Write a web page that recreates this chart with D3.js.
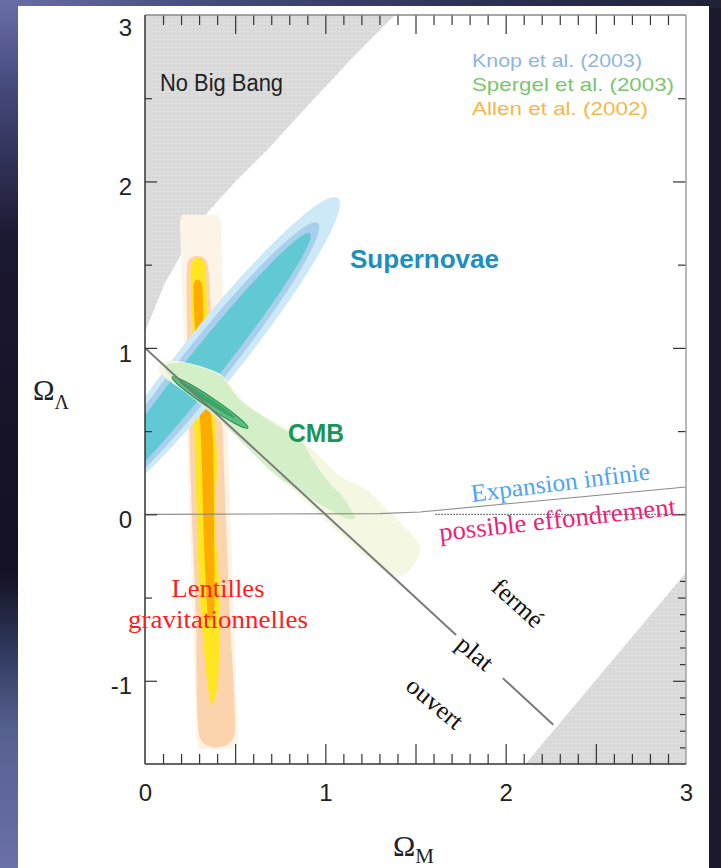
<!DOCTYPE html>
<html><head><meta charset="utf-8">
<script src="https://cdn.jsdelivr.net/npm/d3@7"></script>
<style>html,body{margin:0;padding:0;background:#1c1c30;} svg{display:block}</style>
</head><body>
<svg id="c" width="721" height="868"></svg>
<script>
// ---------- data ----------
const xTickLabels = [0, 1, 2, 3];
const yTickLabels = [-1, 0, 1, 2, 3];
const xDomain = [0, 3];
const yDomain = [-1.5, 3];

// "No Big Bang" region boundary (ΩM, ΩΛ)
const noBigBang = [[0,3],[0,1.097],[0.111,1.391],[0.222,1.601],[0.344,1.811],[0.499,1.997],
  [0.677,2.189],[0.932,2.489],[1.165,2.760],[1.386,3]];
// excluded region bottom-right
const lowerExcluded = [[2.11,-1.5],[3,-0.35],[3,-1.5]];
// flat universe line ΩM+ΩΛ=1 (broken for the "plat" label)
const flatSegments = [[[0,1],[1.725,-0.725]], [[1.984,-0.984],[2.264,-1.264]]];
// expansion / recollapse boundary
const expansionLine = [[0,0],[1.3,0.004],[1.525,0.014],[3,0.164]];
const dottedZero = [[1.61,0],[3,0]];

// Allen et al. (2002) gravitational lensing band, nested levels
const lensPale = [[0.205,1.800],[0.405,1.800],[0.420,1.760],[0.516,-1.370],[0.500,-1.410],[0.300,-1.410],[0.288,-1.370],[0.194,1.760]];
const lensPeach = [[0.238,1.516],[0.344,1.516],[0.372,1.108],[0.427,0.567],[0.449,-0.034],[0.471,-0.635],
  [0.494,-1.332],[0.305,-1.344],[0.283,-0.635],[0.261,-0.034],[0.244,0.567],[0.233,1.108]];
const lensYellow = [[0.255,1.500],[0.333,1.500],[0.349,1.047],[0.399,0.368],[0.388,-0.034],[0.416,-0.515],
  [0.405,-0.996],[0.372,-1.146],[0.344,-0.996],[0.305,-0.515],[0.288,-0.034],[0.277,0.368],[0.266,1.047]];
const lensCore = [[0.270,1.380],[0.316,1.380],[0.330,1.047],[0.377,0.446],[0.383,-0.155],[0.385,-0.575],
  [0.350,-0.620],[0.327,-0.155],[0.311,0.446],[0.280,1.047]];

// Knop et al. (2003) supernova contours: ends of major axis + width ratio
const snTipsA = [[1.070,1.901],[0.959,1.751],[0.915,1.689]];
const snTipsB = [[-0.322,0.010],[-0.294,0.044],[-0.277,0.068]];
const snRatio = [0.144, 0.127, 0.099];

// Spergel et al. (2003) CMB contours
const cmbPale = [[0.072,0.867],[0.100,0.915],[0.183,0.921],[0.305,0.891],[0.416,0.843],[0.505,0.735],
  [0.582,0.639],[0.804,0.507],[0.932,0.387],[1.081,0.231],[1.231,0.147],[1.359,0.014],[1.508,-0.155],
  [1.525,-0.215],[1.503,-0.287],[1.425,-0.371],[1.348,-0.359],[1.248,-0.275],[1.109,-0.143],[0.970,-0.004],
  [0.832,0.134],[0.693,0.290],[0.527,0.447],[0.360,0.615],[0.222,0.735],[0.128,0.807]];
const cmbGreen = [[0.128,0.903],[0.222,0.909],[0.333,0.873],[0.427,0.825],[0.527,0.687],[0.710,0.549],
  [0.860,0.447],[0.932,0.326],[1.009,0.206],[1.098,0.104],[1.154,0.008],[1.165,-0.022],[1.109,-0.022],
  [0.932,0.086],[0.710,0.248],[0.433,0.549],[0.250,0.717],[0.155,0.819],[0.111,0.867]];
const cmbInnerA = [[0.150,0.825],[0.194,0.796]];
const cmbInnerB = [[0.571,0.519],[0.499,0.579]];
const cmbInnerRatio = [0.11, 0.08];

const legendTexts = ["Knop et al. (2003)", "Spergel et al.  (2003)", "Allen et al.  (2002)"];

// ---------- drawing ----------
const svg = d3.select("#c");
const W = 721, H = 868;
const x = d3.scaleLinear().domain(xDomain).range([145, 686]);
const y = d3.scaleLinear().domain(yDomain).range([764, 15]);
const defs = svg.append("defs");

// background
const lg = defs.append("linearGradient").attr("id","leftGrad").attr("x1",0).attr("y1",0).attr("x2",0).attr("y2",1);
[[0,"#6a6ea8"],[0.1,"#454a7c"],[0.28,"#1a1730"],[0.66,"#141124"],[0.74,"#2c3558"],[0.84,"#56608f"],[1,"#6a70a8"]]
  .forEach(s=>lg.append("stop").attr("offset",s[0]).attr("stop-color",s[1]));
const tg = defs.append("linearGradient").attr("id","topGrad");
[[0,"#6a6ea8"],[0.3,"#444a7a"],[0.7,"#2a3052"],[1,"#1f2238"]]
  .forEach(s=>tg.append("stop").attr("offset",s[0]).attr("stop-color",s[1]));
svg.append("rect").attr("width",W).attr("height",H).attr("fill","#1b1a2c");
svg.append("rect").attr("width",W).attr("height",8).attr("fill","url(#topGrad)");
svg.append("rect").attr("width",18).attr("height",H).attr("fill","url(#leftGrad)");
svg.append("rect").attr("x",18).attr("y",6).attr("width",691).attr("height",H-6).attr("fill","#ffffff");

// patterns
const pat = defs.append("pattern").attr("id","grayDots").attr("patternUnits","userSpaceOnUse").attr("width",4).attr("height",4);
pat.append("rect").attr("width",4).attr("height",4).attr("fill","#dcdcdc");
pat.append("rect").attr("x",1).attr("y",1).attr("width",1).attr("height",1).attr("fill","#c6c6c6");

defs.append("clipPath").attr("id","plotClip").append("rect")
  .attr("x",x(0)).attr("y",y(3)).attr("width",x(3)-x(0)).attr("height",y(-1.5)-y(3));

const plot = svg.append("g").attr("clip-path","url(#plotClip)");
const line = d3.line().x(d=>x(d[0])).y(d=>y(d[1]));
const poly = d3.line().x(d=>x(d[0])).y(d=>y(d[1])).curve(d3.curveLinearClosed);
const smooth = d3.line().x(d=>x(d[0])).y(d=>y(d[1])).curve(d3.curveCardinalClosed.tension(0.3));

plot.append("path").attr("d", poly(noBigBang)).attr("fill","url(#grayDots)");
plot.append("path").attr("d", poly(lowerExcluded)).attr("fill","url(#grayDots)");

// lensing band
plot.append("path").attr("d", poly(lensPale)).attr("fill","#fdf4e8");
plot.append("path").attr("d", smooth(lensPeach)).attr("fill","#fbd4ae");
plot.append("path").attr("d", smooth(lensYellow)).attr("fill","#ffe620");
plot.append("path").attr("d", smooth(lensCore)).attr("fill","#ffac00");

// ellipse helper from two major-axis tips (data) and width ratio
function ellipse(g, a, b, ratio, fill, stroke) {
  const ax = x(a[0]), ay = y(a[1]), bx = x(b[0]), by = y(b[1]);
  const cx = (ax+bx)/2, cy = (ay+by)/2;
  const rx = Math.hypot(ax-bx, ay-by)/2;
  const ang = Math.atan2(ay-by, ax-bx)*180/Math.PI;
  g.append("ellipse").attr("cx",0).attr("cy",0).attr("rx",rx).attr("ry",rx*ratio)
    .attr("transform",`translate(${cx},${cy}) rotate(${ang})`)
    .attr("fill",fill).attr("stroke",stroke||"none").attr("stroke-width",1);
}
const snFills = ["#cde9f8","#a8d0ec","#62c8d3"];
snTipsA.forEach((a,i)=>ellipse(plot, a, snTipsB[i], snRatio[i], snFills[i]));

// CMB
plot.append("path").attr("d", smooth(cmbPale)).attr("fill","#f3f7e0").attr("opacity",0.95);
plot.append("path").attr("d", smooth(cmbGreen)).attr("fill","#d2eec6").attr("opacity",0.95);
ellipse(plot, cmbInnerA[0], cmbInnerB[0], cmbInnerRatio[0], "#5dbd82", "#1f8a4c");
ellipse(plot, cmbInnerA[1], cmbInnerB[1], cmbInnerRatio[1], "#3aa566");

// lines
plot.append("path").attr("d", line(expansionLine)).attr("fill","none").attr("stroke","#8a8a8a").attr("stroke-width",1.1);
plot.append("path").attr("d", line(dottedZero)).attr("fill","none").attr("stroke","#333").attr("stroke-width",1).attr("stroke-dasharray","1.5,1.5");
flatSegments.forEach(s=>plot.append("path").attr("d", line(s)).attr("fill","none").attr("stroke","#7a7a7a").attr("stroke-width",2));

// ---------- axes ----------
const minorX = d3.range(1,30).map(i=>i/10).filter(v=>Math.abs(v*2-Math.round(v*2))>1e-6);
const majorX = [0.5,1,1.5,2,2.5];
function tickAxis(axisFn, scale, vals, size, tx, ty) {
  const g = svg.append("g").attr("transform",`translate(${tx},${ty})`)
    .call(axisFn(scale).tickValues(vals).tickSize(size).tickFormat(""));
  g.select(".domain").remove();
  g.selectAll("line").attr("stroke","#333").attr("stroke-width",1.2);
  return g;
}
tickAxis(d3.axisTop, x, minorX, 10, 0, y(-1.5));
tickAxis(d3.axisTop, x, majorX, 20, 0, y(-1.5));
tickAxis(d3.axisBottom, x, minorX, 10, 0, y(3));
tickAxis(d3.axisBottom, x, majorX, 19, 0, y(3));
tickAxis(d3.axisRight, y, [-1,0,1,2], 12, x(0), 0);
tickAxis(d3.axisRight, y, [-0.5,0.5,1.5,2.5], 7, x(0), 0);
tickAxis(d3.axisLeft, y, [-1,0,1,2], 13, x(3), 0);
tickAxis(d3.axisLeft, y, [-0.5,0.5,1.5,2.5], 8, x(3), 0);
tickAxis(d3.axisLeft, y, [-1.4,-1.3,-1.2,-1.1,-0.9,-0.8,-0.7,-0.6,-0.4], 6, x(3), 0);

// frame
svg.append("line").attr("x1",x(0)).attr("x2",x(3)).attr("y1",y(3)).attr("y2",y(3)).attr("stroke","#8a8a8a").attr("stroke-width",1.4);
svg.append("line").attr("x1",x(3)).attr("x2",x(3)).attr("y1",y(3)).attr("y2",y(-1.5)).attr("stroke","#9a9a9a").attr("stroke-width",1.4);
svg.append("line").attr("x1",x(0)).attr("x2",x(0)).attr("y1",y(3)).attr("y2",y(-1.5)).attr("stroke","#333").attr("stroke-width",1.5);
svg.append("line").attr("x1",x(0)).attr("x2",x(3)).attr("y1",y(-1.5)).attr("y2",y(-1.5)).attr("stroke","#333").attr("stroke-width",1.5);

// tick labels
const sans = "'Liberation Sans', Arial, Helvetica, sans-serif";
const serif = "'Liberation Serif', 'Times New Roman', serif";
const xl = svg.append("g").attr("transform",`translate(0,${y(-1.5)})`)
  .call(d3.axisBottom(x).tickValues(xTickLabels).tickSize(0).tickPadding(20).tickFormat(d=>String(d)));
xl.select(".domain").remove();
xl.selectAll("text").attr("font-family",sans).attr("font-size",24).attr("fill","#222");
const yl = svg.append("g").attr("transform",`translate(${x(0)},0)`)
  .call(d3.axisLeft(y).tickValues(yTickLabels).tickSize(0).tickPadding(13).tickFormat(d=>String(d)));
yl.select(".domain").remove();
yl.selectAll("text").attr("font-family",sans).attr("font-size",24).attr("fill","#222")
  .attr("dy", d => d === yDomain[1] ? "0.85em" : "0.55em");

// axis titles
const yt = svg.append("text").attr("x",33).attr("y",400).attr("font-family",serif).attr("fill","#222");
yt.append("tspan").attr("font-size",29).text("Ω");
yt.append("tspan").attr("font-size",20).attr("dy",9).text("Λ");
const xt = svg.append("text").attr("x",393).attr("y",856).attr("font-family",serif).attr("fill","#222");
xt.append("tspan").attr("font-size",30).text("Ω");
xt.append("tspan").attr("font-size",21).attr("dy",7).text("M");

// text helper
function label(t, px, py, opts) {
  const el = svg.append("text").attr("x",0).attr("y",0)
    .attr("transform",`translate(${px},${py}) rotate(${opts.rot||0})`)
    .attr("font-family",opts.font).attr("font-size",opts.size).attr("fill",opts.color)
    .attr("font-weight",opts.weight||"normal").attr("text-anchor",opts.anchor||"start")
    .text(t);
  if (opts.baseline) el.attr("dominant-baseline",opts.baseline);
  if (opts.len) el.attr("textLength",opts.len).attr("lengthAdjust","spacingAndGlyphs");
  return el;
}

// legend
const legendColors = ["#8fb5de","#7cc46e","#f6b748"];
const legendLens = [170, 202, 176];
legendTexts.forEach((t,i)=>label(t, 472, 66.5+24.3*i, {font:sans,size:19,color:legendColors[i],len:legendLens[i]}));

label("No Big Bang", 160, 91, {font:sans,size:23,color:"#222",len:123});
label("Supernovae", 350, 268, {font:sans,size:25,color:"#1d8fbf",weight:"bold",len:149});
label("CMB", 288, 442, {font:sans,size:25,color:"#17955a",weight:"bold",len:56});
label("Lentilles", 218, 597, {font:serif,size:26,color:"#ff1c1c",anchor:"middle",len:93});
label("gravitationnelles", 218, 628, {font:serif,size:26,color:"#ff1c1c",anchor:"middle",len:180});
label("Expansion infinie", 472, 502, {font:serif,size:25,color:"#4fa3f5",rot:-7.2,len:180});
label("possible effondrement", 440, 541, {font:serif,size:26,color:"#ee1f78",rot:-6.3,len:238});
label("fermé", 518, 603, {font:serif,size:25,color:"#111",rot:42,anchor:"middle",baseline:"central",len:60});
label("plat", 475, 653, {font:serif,size:25,color:"#111",rot:40,anchor:"middle",baseline:"central",len:40});
label("ouvert", 435, 703, {font:serif,size:25,color:"#111",rot:40,anchor:"middle",baseline:"central",len:66});
</script>
</body></html>
